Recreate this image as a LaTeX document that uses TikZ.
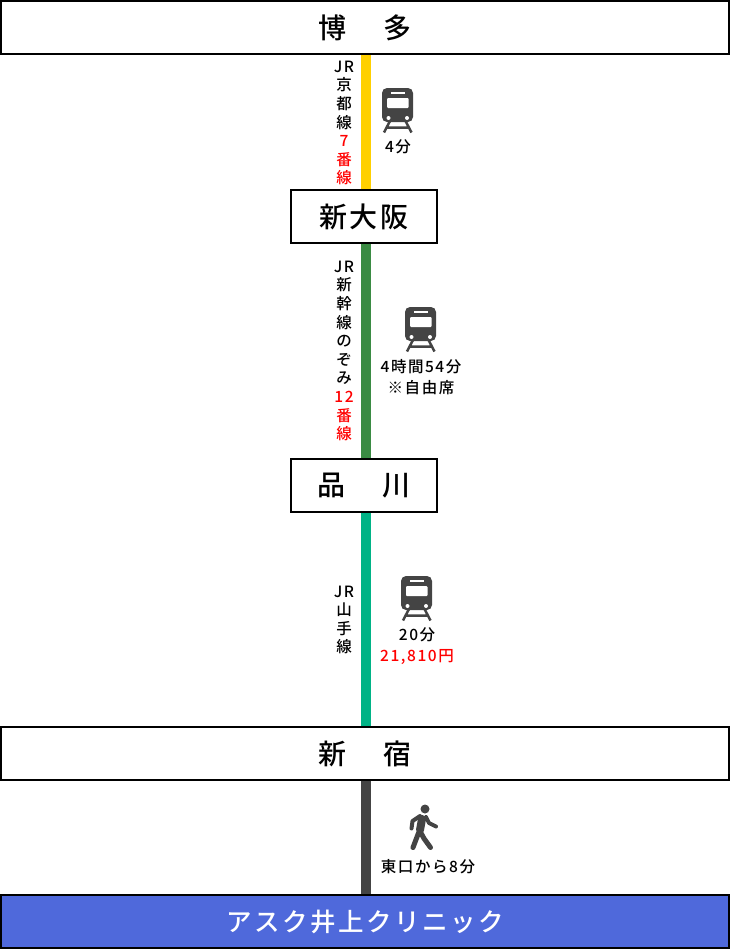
\documentclass[tikz,border=0pt]{standalone}
\usepackage{fontspec}
\setmainfont[LetterSpace=10]{Noto Sans CJK JP Medium}
\definecolor{linea}{HTML}{FFD000}
\definecolor{lineb}{HTML}{3A8B43}
\definecolor{linec}{HTML}{00B386}
\definecolor{lined}{HTML}{444444}
\definecolor{clinic}{HTML}{4F69DB}
\newcommand{\stacklh}{\fontsize{15.5}{18.6}\selectfont}
\tikzset{
  station/.style={draw=black,line width=2pt,fill=white,minimum height=53pt,inner sep=0pt,font=\fontsize{28}{30}\selectfont},
  wide/.style={station,minimum width=728pt},
  short/.style={station,minimum width=146pt},
  route/.style={line width=10pt},
  lineinfo/.style={align=center,inner sep=0pt,font=\stacklh},
  timeinfo/.style={align=center,inner sep=0pt,font=\fontsize{15.5}{21.5}\selectfont},
  train/.pic={
    \fill[lined,rounded corners=5pt] (0,0) rectangle (31,34);
    \fill[white,rounded corners=1pt] (5,10) rectangle (26.5,20);
    \fill[white] (9,3.5) rectangle (23,6);
    \fill[white] (6.5,30) circle (2);
    \fill[white] (25,30) circle (2);
    \draw[lined,line width=2.5pt] (8,33) -- (2,44.5) (23.5,33) -- (29.5,44.5) (5,39.5) -- (26.5,39.5);
  },
  walker/.pic={
    \fill[lined] (0,0) circle (4.5);
    \draw[lined,line width=8pt,line cap=round] (-3,10) -- (-5,21);
    \draw[lined,line width=4pt,line cap=round,line join=round] (-5,7) -- (-12.5,12) -- (-13.5,19.5);
    \draw[lined,line width=4pt,line cap=round,line join=round] (1,8) -- (4,14) -- (11,17.5);
    \draw[lined,line width=5pt,line cap=round,line join=round] (-6.5,24) -- (-12,38.5);
    \draw[lined,line width=5pt,line cap=round,line join=round] (-4,24) -- (-1,29.5) -- (5.5,38.5);
  }
}
\begin{document}
\begin{tikzpicture}[x=1pt,y=-1pt]
  \useasboundingbox (0,0) rectangle (730,950);
  \coordinate (barx) at (366,0);

  \node[wide] (hakata) at (365,27.5) {博\hspace{37pt}多};
  \node[short] (shinosaka) at (364,216.5) {新大阪};
  \node[short] (shinagawa) at (364,485.5) {品\hspace{37pt}川};
  \node[wide] (shinjuku) at (365,753.5) {新\hspace{37pt}宿};
  \node[wide,fill=clinic,text=white,font=\fontsize{25.5}{30}\selectfont] (askclinic) at (365,921.5) {アスク井上クリニック\hspace{2pt}};

  \draw[route,linea] (barx |- hakata.south) -- (barx |- shinosaka.north);
  \draw[route,lineb] (barx |- shinosaka.south) -- (barx |- shinagawa.north);
  \draw[route,linec] (barx |- shinagawa.south) -- (barx |- shinjuku.north);
  \draw[route,lined] (barx |- shinjuku.south) -- (barx |- askclinic.north);

  \node[lineinfo] (kyoto) at (344,123) {JR\\京\\都\\線\\\textcolor{red}{7}\\\textcolor{red}{番}\\\textcolor{red}{線}};
  \node[lineinfo] (nozomi) at (344,351) {JR\\新\\幹\\線\\の\\ぞ\\み\\\textcolor{red}{12}\\\textcolor{red}{番}\\\textcolor{red}{線}};
  \node[lineinfo] (yamanote) at (344,620) {JR\\山\\手\\線};

  \pic at (382,88) {train};
  \pic at (405,307) {train};
  \pic at (401,576) {train};
  \pic at (425,809) {walker};

  \node[timeinfo] (timea) at (398,147) {4分};
  \node[timeinfo] (timeb) at (421,377) {4時間54分\\※自由席};
  \node[timeinfo] (timec) at (417,646) {20分\\\textcolor{red}{21,810円}};
  \node[timeinfo] (timed) at (428,867) {東口から8分};
\end{tikzpicture}
\end{document}
